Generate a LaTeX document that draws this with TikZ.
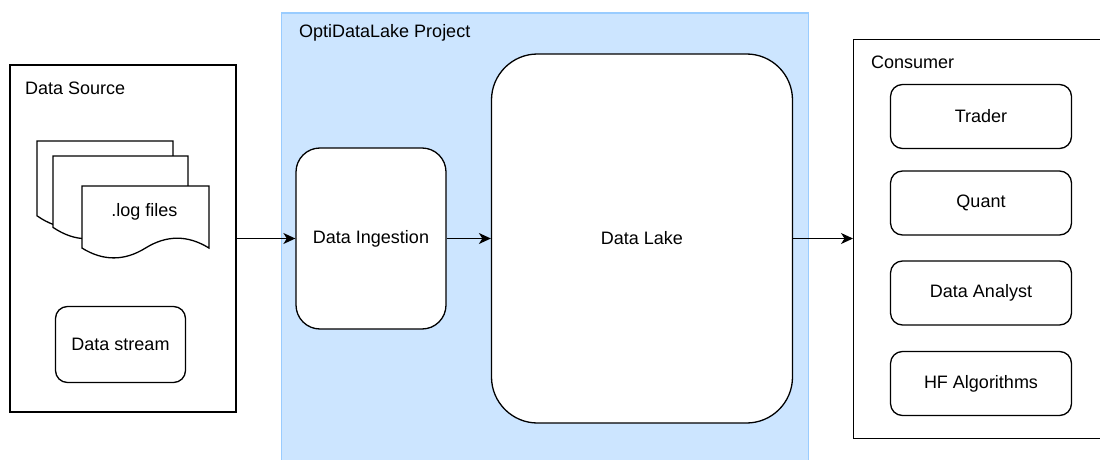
\documentclass[tikz,border=0pt]{standalone}
\usepackage{fontspec}
\setmainfont{Liberation Sans}
\usetikzlibrary{arrows.meta}
\definecolor{projfill}{HTML}{CCE5FF}
\definecolor{projline}{HTML}{99CCFF}
\begin{document}
\begin{tikzpicture}[x=1pt,y=-1pt,
  every node/.style={font=\fontsize{18}{21}\selectfont, inner sep=0pt},
  container/.style={draw, line width=1.3pt, fill=white, rectangle},
  card/.style={draw, line width=1.3pt, fill=white, rounded corners=#1, align=center},
  card/.default=12pt,
  title/.style={anchor=west},
  flow/.style={line width=1.3pt, -{Stealth[length=12pt,width=11pt,inset=3.5pt]}},
  docpage/.pic={
    \draw[line width=1.3pt, fill=white] (0,0) -- (1,0) -- (1,0.85)
      .. controls (0.8333,0.67) and (0.6667,0.67) .. (0.5,0.85)
      .. controls (0.3333,1.03) and (0.1667,1.03) .. (0,0.85) -- cycle;
  }]
\useasboundingbox (0,0) rectangle (1100,460);

% project area (runs past the lower edge)
\node[draw=projline, fill=projfill, line width=1.3pt, minimum width=527pt, minimum height=480pt, anchor=north west] (proj) at (281,12.5) {};
\node[title] (projt) at (299,33) {OptiDataLake Project};

% data source container
\node[container, minimum width=226pt, minimum height=347pt] (src) at (123,238.5) {};
\node[title] (srct) at (25,88) {Data Source};

% stacked log files
\pic[xscale=136, yscale=88] at (37,141) {docpage};
\pic[xscale=135, yscale=84] at (53,156) {docpage};
\pic[xscale=127, yscale=73] at (82,186) {docpage};
\node (logs) at (144.5,212) {.log files};

\node[card, minimum width=130pt, minimum height=76pt] (stream) at (120.5,344.5) {Data stream};

% pipeline
\node[card=24pt, minimum width=150pt, minimum height=181pt] (ing) at (371,238.5) {Data Ingestion};
\node[card=46pt, minimum width=301pt, minimum height=369pt] (lake) at (642,238.5) {Data Lake};

% consumer container (runs past the right edge)
\node[container, minimum width=280pt, minimum height=399pt, anchor=north west] (cons) at (853,39) {};
\node[title] (const) at (871,62) {Consumer};
\node[card, minimum width=181pt, minimum height=64pt] (trader) at (981,116.5) {Trader};
\node[card, minimum width=181pt, minimum height=64pt] (quant) at (981,203) {Quant};
\node[card, minimum width=181pt, minimum height=64pt] (analyst) at (981,293) {Data Analyst};
\node[card, minimum width=181pt, minimum height=64pt] (hf) at (981,383.5) {HF Algorithms};

% connectors
\draw[flow] (src.east) -- (ing.west);
\draw[flow] (ing.east) -- (lake.west);
\draw[flow] (lake.east) -- (cons.west |- lake.east);
\end{tikzpicture}
\end{document}
